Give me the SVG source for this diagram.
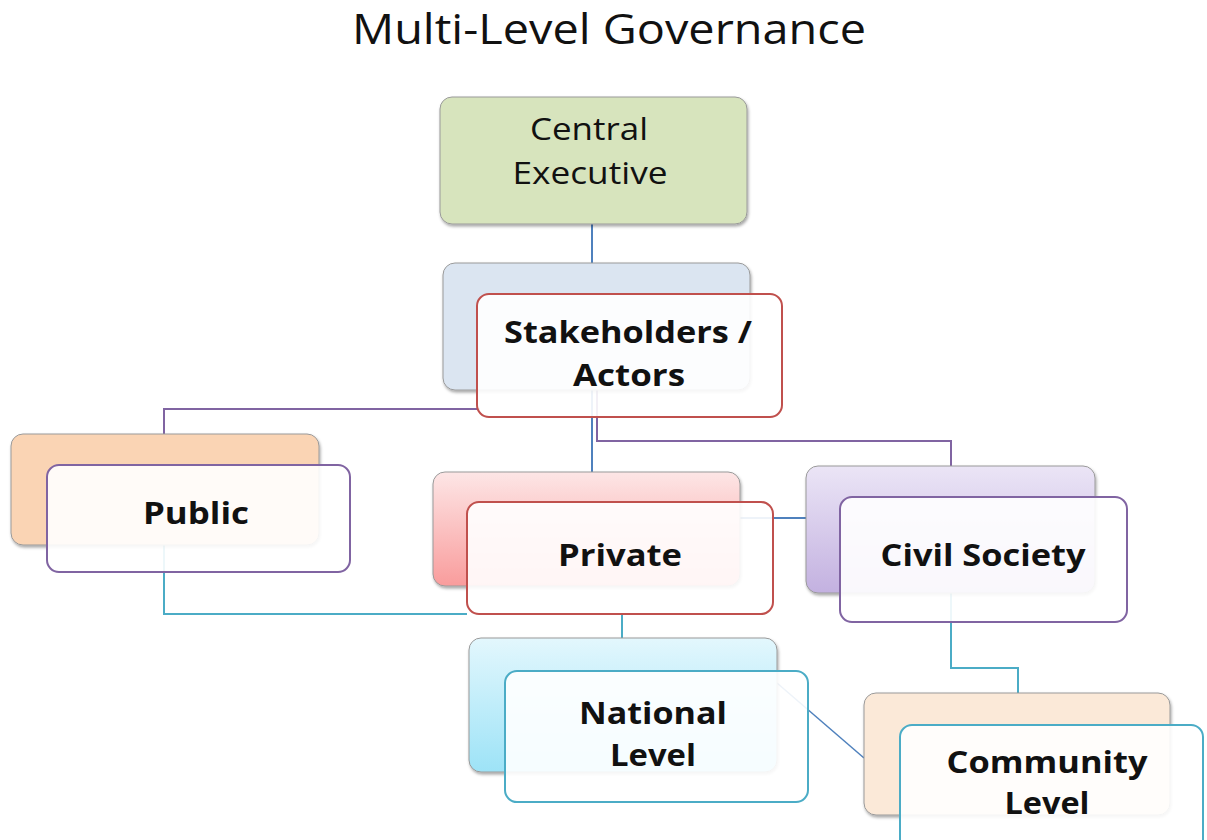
<svg xmlns="http://www.w3.org/2000/svg" width="1207" height="840" viewBox="0 0 1207 840">
<defs>
<filter id="sh" x="-10%" y="-10%" width="120%" height="130%">
<feDropShadow dx="1" dy="2" stdDeviation="1.5" flood-color="#000" flood-opacity="0.35"/>
</filter>
<linearGradient id="gPriv" x1="0" y1="0" x2="0" y2="1"><stop offset="0" stop-color="#fde6e6"/><stop offset="1" stop-color="#f99c9c"/></linearGradient>
<linearGradient id="gCiv" x1="0" y1="0" x2="0" y2="1"><stop offset="0" stop-color="#ebe5f6"/><stop offset="1" stop-color="#c3b1e0"/></linearGradient>
<linearGradient id="gNat" x1="0" y1="0" x2="0" y2="1"><stop offset="0" stop-color="#e3f7fd"/><stop offset="1" stop-color="#9de3f7"/></linearGradient>
</defs>
<style>
.back{stroke:#9a9a9a;stroke-width:1;filter:url(#sh)}
.front{fill:#ffffff;fill-opacity:0.9;stroke-width:2}
.t{font-family:"Open Sans","Liberation Sans",sans-serif;font-size:31px;fill:#111;text-anchor:middle}
.b{font-weight:bold}
.c{fill:none;stroke-width:2}
</style>
<rect width="1207" height="840" fill="#ffffff"/>
<text x="609" y="44" class="t" style="font-size:42px" textLength="514" lengthAdjust="spacingAndGlyphs">Multi-Level Governance</text>

<g id="connectors">
<path class="c" stroke="#4f81bd" d="M592 224 V263"/>
<path class="c" stroke="#8064a2" d="M480 409 H164 V435"/>
<path class="c" stroke="#4f81bd" d="M592 390 V472"/>
<path class="c" stroke="#8064a2" d="M597 390 V441 H951 V466"/>
<path class="c" stroke="#4bacc6" d="M164 545 V614 H467"/>
<path class="c" stroke="#4bacc6" d="M622 614 V638"/>
<path class="c" stroke="#4f81bd" d="M740 518 H806"/>
<path class="c" stroke="#4bacc6" d="M951 593 V668 H1018 V693"/>
<path stroke="#4f81bd" stroke-width="1.5" fill="none" d="M777 683 L864 758"/>
</g>

<g id="central">
<rect x="440" y="97" width="307" height="127" rx="12" fill="#d7e4bd" class="back"/>
<text class="t" x="589" y="140" textLength="118" lengthAdjust="spacingAndGlyphs">Central</text>
<text class="t" x="590" y="184" textLength="155" lengthAdjust="spacingAndGlyphs">Executive</text>
</g>

<g id="stakeholders">
<rect x="443" y="263" width="307" height="127" rx="12" fill="#dbe5f1" class="back"/>
<rect x="477" y="294" width="305" height="123" rx="12" class="front" stroke="#c0504d"/>
<text class="t b" x="628" y="343" textLength="248" lengthAdjust="spacingAndGlyphs">Stakeholders /</text>
<text class="t b" x="629" y="386" textLength="112" lengthAdjust="spacingAndGlyphs">Actors</text>
</g>

<g id="public">
<rect x="11" y="434" width="308" height="111" rx="12" fill="#fad4b4" class="back"/>
<rect x="47" y="465" width="303" height="107" rx="12" class="front" stroke="#8064a2"/>
<text class="t b" x="196" y="524" textLength="106" lengthAdjust="spacingAndGlyphs">Public</text>
</g>

<g id="private">
<rect x="433" y="472" width="307" height="114" rx="12" fill="url(#gPriv)" class="back"/>
<rect x="467" y="502" width="306" height="112" rx="12" class="front" stroke="#c0504d"/>
<text class="t b" x="620" y="566" textLength="124" lengthAdjust="spacingAndGlyphs">Private</text>
</g>

<g id="civil">
<rect x="806" y="466" width="289" height="127" rx="12" fill="url(#gCiv)" class="back"/>
<rect x="840" y="497" width="287" height="125" rx="12" class="front" stroke="#8064a2"/>
<text class="t b" x="983" y="566" textLength="205" lengthAdjust="spacingAndGlyphs">Civil Society</text>
</g>

<g id="national">
<rect x="469" y="638" width="308" height="134" rx="12" fill="url(#gNat)" class="back"/>
<rect x="505" y="671" width="303" height="131" rx="12" class="front" stroke="#4bacc6"/>
<text class="t b" x="653" y="724" textLength="148" lengthAdjust="spacingAndGlyphs">National</text>
<text class="t b" x="653" y="766" textLength="86" lengthAdjust="spacingAndGlyphs">Level</text>
</g>

<g id="community">
<rect x="864" y="693" width="306" height="122" rx="12" fill="#fbe9d8" class="back"/>
<rect x="900" y="725" width="303" height="130" rx="12" class="front" stroke="#4bacc6"/>
<text class="t b" x="1047" y="773" textLength="201" lengthAdjust="spacingAndGlyphs">Community</text>
<text class="t b" x="1047" y="814" textLength="85" lengthAdjust="spacingAndGlyphs">Level</text>
</g>
</svg>
